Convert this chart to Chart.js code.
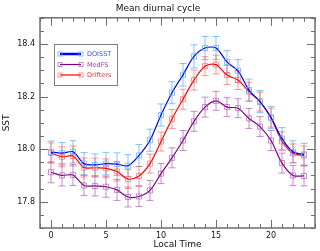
<!DOCTYPE html>
<html>
<head>
<meta charset="utf-8">
<script src="https://cdn.jsdelivr.net/npm/chart.js@4"></script>
<style>
  html, body { margin: 0; padding: 0; background: #fff; }
  #wrap { width: 320px; height: 251px; }
</style>
</head>
<body>
<div id="wrap"><canvas id="sstChart" width="320" height="251"></canvas></div>
<script>
// hours of the day
const hours = [0,1,2,3,4,5,6,7,8,9,10,11,12,13,14,15,16,17,18,19,20,21,22,23];

const doisst = [17.989, 17.985, 17.990, 17.945, 17.940, 17.945, 17.943, 17.937, 17.976, 18.034,
                18.130, 18.215, 18.283, 18.353, 18.385, 18.385, 18.332, 18.298, 18.225, 18.181,
                18.120, 18.040, 17.990, 17.980];
const medfs  = [17.912, 17.900, 17.902, 17.862, 17.860, 17.857, 17.845, 17.818, 17.820, 17.843,
                17.907, 17.967, 18.033, 18.106, 18.160, 18.184, 18.160, 18.156, 18.117, 18.086,
                18.033, 17.947, 17.900, 17.898];
const drifters = [17.986, 17.971, 17.974, 17.930, 17.930, 17.927, 17.915, 17.886, 17.898, 17.945,
                  18.029, 18.115, 18.190, 18.263, 18.316, 18.322, 18.282, 18.263, 18.219, 18.181,
                  18.120, 18.030, 17.984, 17.976];

// error bar half widths
const doisstErr   = [0.042, 0.040, 0.042, 0.042, 0.042, 0.043, 0.043, 0.042, 0.042, 0.042,
                     0.042, 0.042, 0.043, 0.044, 0.044, 0.044, 0.043, 0.043, 0.042, 0.042,
                     0.042, 0.042, 0.042, 0.042];
const medfsErr    = [0.040, 0.040, 0.040, 0.038, 0.038, 0.040, 0.040, 0.038, 0.038, 0.038,
                     0.038, 0.038, 0.038, 0.038, 0.038, 0.036, 0.036, 0.036, 0.038, 0.038,
                     0.038, 0.038, 0.038, 0.038];
const driftersErr = [0.038, 0.038, 0.038, 0.036, 0.036, 0.036, 0.036, 0.036, 0.036, 0.036,
                     0.036, 0.036, 0.038, 0.038, 0.036, 0.036, 0.036, 0.036, 0.036, 0.036,
                     0.036, 0.036, 0.036, 0.036];

const yTicks = [17.8, 18.0, 18.2, 18.4];
const xTicks = [0, 5, 10, 15, 20];

const FONT = 'DejaVu Sans';
const frameColor = '#6e6e6e';

function mk(label, vals, errs, line, light, text) {
    return {
        label: label,
        data: hours.map((h, i) => ({ x: h, y: vals[i] })),
        errs: errs,
        borderColor: line,
        lightColor: light,
        textColor: text,
        borderWidth: 1.2,
        tension: 0.3,
        pointStyle: 'rect',
        pointRadius: 3.6,
        pointBorderWidth: 1,
        pointBorderColor: light,
        pointBackgroundColor: 'rgba(0,0,0,0)',
        fill: false
    };
}

const errorBars = {
    id: 'errorBars',
    beforeDatasetsDraw(chart) {
        const c = chart.ctx, xs = chart.scales.x, ys = chart.scales.y;
        c.save();
        c.lineWidth = 1;
        chart.data.datasets.forEach(ds => {
            c.strokeStyle = ds.lightColor;
            ds.data.forEach((p, i) => {
                const px = xs.getPixelForValue(p.x);
                const t = ys.getPixelForValue(p.y + ds.errs[i]);
                const b = ys.getPixelForValue(p.y - ds.errs[i]);
                c.beginPath();
                c.moveTo(px, t); c.lineTo(px, b);
                c.moveTo(px - 3.5, t); c.lineTo(px + 3.5, t);
                c.moveTo(px - 3.5, b); c.lineTo(px + 3.5, b);
                c.stroke();
            });
        });
        c.restore();
    }
};

const frameTicks = {
    id: 'frameTicks',
    afterDraw(chart) {
        const c = chart.ctx, a = chart.chartArea, xs = chart.scales.x, ys = chart.scales.y;
        c.save();
        c.strokeStyle = frameColor;
        c.lineWidth = 1;
        c.beginPath();
        for (let v = Math.ceil(xs.min); v <= xs.max; v++) {
            const px = Math.round(xs.getPixelForValue(v)) + 0.5;
            const len = xTicks.includes(v) ? 8 : 4;
            c.moveTo(px, a.bottom); c.lineTo(px, a.bottom - len);
            c.moveTo(px, a.top); c.lineTo(px, a.top + len);
        }
        for (let k = Math.ceil(ys.min / 0.05 - 1e-6); k * 0.05 <= ys.max + 1e-6; k++) {
            const v = k * 0.05;
            const py = Math.round(ys.getPixelForValue(v)) + 0.5;
            const major = yTicks.some(t => Math.abs(t - v) < 1e-6);
            const len = major ? 8 : 4;
            c.moveTo(a.left, py); c.lineTo(a.left + len, py);
            c.moveTo(a.right, py); c.lineTo(a.right - len, py);
        }
        c.stroke();
        c.lineWidth = 1.5;
        c.strokeRect(a.left, a.top, a.right - a.left, a.bottom - a.top);

        // legend box
        const lx = 54, ly = 44, lw = 63, lh = 41;
        c.lineWidth = 1;
        c.strokeStyle = '#808080';
        c.strokeRect(lx + 0.5, ly + 0.5, lw, lh);
        c.font = '6.5px ' + FONT;
        c.textBaseline = 'middle';
        chart.data.datasets.forEach((ds, i) => {
            const y = ly + 10 + i * 10.5;
            c.strokeStyle = ds.borderColor;
            c.lineWidth = i === 0 ? 2.5 : 1.2;
            c.beginPath(); c.moveTo(60, y); c.lineTo(81, y); c.stroke();
            c.strokeStyle = ds.lightColor;
            c.lineWidth = 1;
            c.strokeRect(58, y - 2, 4, 4);
            c.strokeRect(79, y - 2, 4, 4);
            c.fillStyle = ds.textColor;
            c.fillText(ds.label, 87, y + 0.5);
        });
        c.restore();
    }
};

const datasets = [
    mk('DOISST', doisst, doisstErr, '#0000ff', 'rgba(90,175,255,0.75)', '#3355ff'),
    mk('MedFS', medfs, medfsErr, '#800080', 'rgba(170,80,180,0.65)', '#9b3fa6'),
    mk('Drifters', drifters, driftersErr, '#ff0000', 'rgba(255,80,80,0.6)', '#ff2a2a')
];

new Chart(document.getElementById('sstChart').getContext('2d'), {
    type: 'line',
    data: { datasets: datasets },
    options: {
        responsive: false,
        animation: false,
        devicePixelRatio: 1,
        layout: { padding: { left: 0, right: 4, top: 0, bottom: 0 } },
        plugins: {
            legend: { display: false },
            tooltip: { enabled: false },
            title: {
                display: true,
                text: 'Mean diurnal cycle',
                color: '#111',
                font: { family: FONT, size: 9, weight: 'normal' },
                padding: { top: 3, bottom: 4 }
            }
        },
        scales: {
            x: {
                type: 'linear',
                min: -1, max: 24,
                afterBuildTicks: s => { s.ticks = xTicks.map(v => ({ value: v })); },
                afterFit: s => { s.height = 23; },
                grid: { display: false, drawTicks: false },
                border: { display: false },
                ticks: { color: '#111', font: { family: FONT, size: 8 }, padding: 3, maxRotation: 0 },
                title: { display: true, text: 'Local Time', color: '#111',
                         font: { family: FONT, size: 9 }, padding: { top: 0, bottom: 1 } }
            },
            y: {
                min: 17.7, max: 18.5,
                afterBuildTicks: s => { s.ticks = yTicks.map(v => ({ value: v })); },
                afterFit: s => { s.width = 40; },
                grid: { display: false, drawTicks: false },
                border: { display: false },
                ticks: { color: '#111', font: { family: FONT, size: 8 }, padding: 5,
                         callback: v => v.toFixed(1) },
                title: { display: true, text: 'SST', color: '#111',
                         font: { family: FONT, size: 9 }, padding: { top: 1, bottom: 0 } }
            }
        }
    },
    plugins: [errorBars, frameTicks]
});
</script>
</body>
</html>
